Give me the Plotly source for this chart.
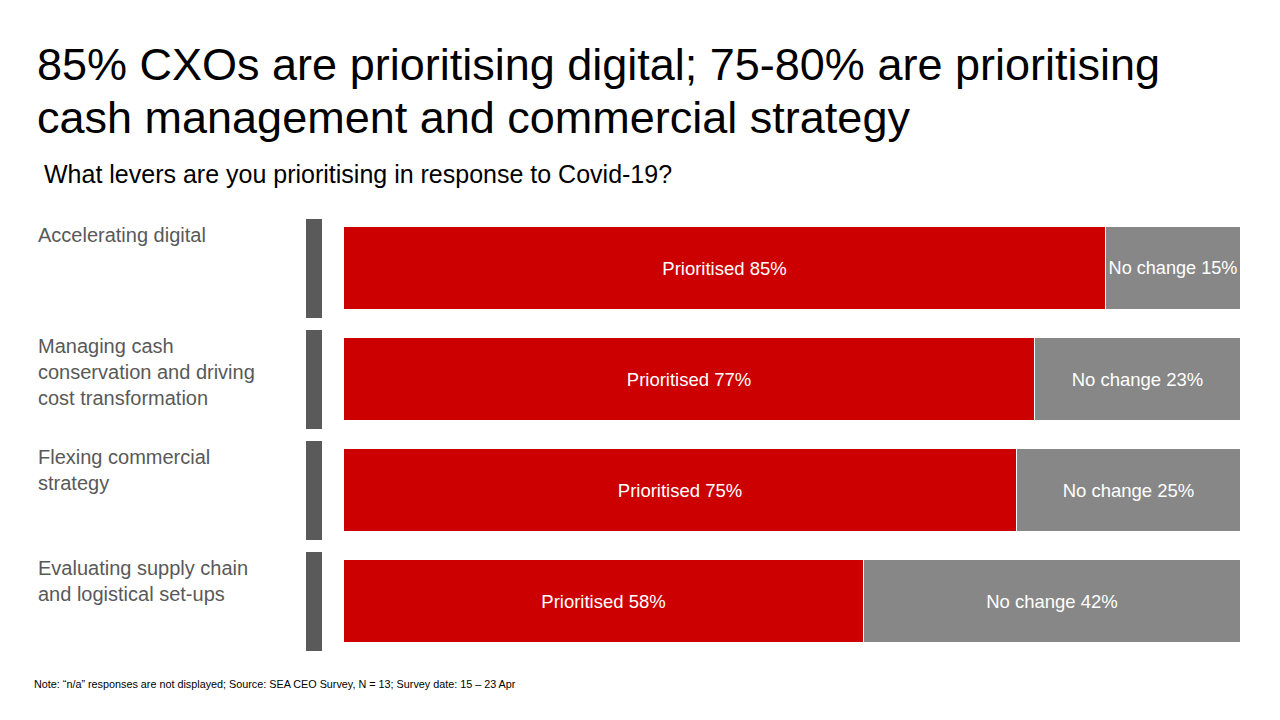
import plotly.graph_objects as go

# survey data
levers = [
    "Accelerating digital",
    "Managing cash<br>conservation and driving<br>cost transformation",
    "Flexing commercial<br>strategy",
    "Evaluating supply chain<br>and logistical set-ups",
]
prioritised = [85, 77, 75, 58]
no_change = [15, 23, 25, 42]

title_lines = [
    "85% CXOs are prioritising digital; 75-80% are prioritising",
    "cash management and commercial strategy",
]
subtitle = "What levers are you prioritising in response to Covid-19?"
note = ("Note: \u201cn/a\u201d responses are not displayed; Source: SEA CEO Survey, "
        "N = 13; Survey date: 15 \u2013 23 Apr")

RED = "#CC0000"
GREY = "#878787"
DARK = "#5A5A5A"
FONT = "Liberation Sans, Arial, Helvetica, sans-serif"

W, H = 1280, 720
rows = list(range(len(levers)))

fig = go.Figure()

# dark strips to the left of each bar
fig.add_trace(go.Bar(
    y=rows, x=[1] * len(rows), orientation="h",
    xaxis="x2", yaxis="y",
    marker=dict(color=DARK, line=dict(width=0)),
    width=0.89, hoverinfo="skip", showlegend=False,
))

fig.add_trace(go.Bar(
    y=rows, x=prioritised, orientation="h", name="Prioritised",
    marker=dict(color=RED, line=dict(color="white", width=1)),
    width=0.75,
    text=[f"Prioritised {v}%" for v in prioritised],
    textposition="inside", insidetextanchor="middle",
    textfont=dict(color="white", size=18.5, family=FONT),
    showlegend=False,
))
fig.add_trace(go.Bar(
    y=rows, x=no_change, orientation="h", name="No change",
    marker=dict(color=GREY, line=dict(color="white", width=1)),
    width=0.75,
    text=[f"No change {v}%" for v in no_change],
    textposition="inside", insidetextanchor="middle",
    textfont=dict(color="white", size=18.5, family=FONT),
    showlegend=False,
))

# row 0 centre at 260.5px, rows 111px apart
top = -260.5 / 111
bottom = (H - 260.5) / 111

fig.update_layout(
    width=W, height=H,
    margin=dict(l=0, r=0, t=0, b=0),
    paper_bgcolor="white", plot_bgcolor="white",
    barmode="stack", bargap=0,
    uniformtext=dict(mode="show", minsize=17),
    font=dict(family=FONT),
    xaxis=dict(domain=[336 / W, 1233 / W], range=[0, 100],
               visible=False, fixedrange=True),
    xaxis2=dict(domain=[298 / W, 314 / W], range=[0, 1],
                visible=False, anchor="y"),
    yaxis=dict(range=[bottom, top], visible=False, domain=[0, 1]),
)

annotations = []
for i, lab in zip(rows, levers):
    annotations.append(dict(
        x=28 / W, xref="paper", xanchor="left",
        y=i, yref="y", yanchor="top", yshift=47,
        text=lab, align="left", showarrow=False,
        font=dict(size=20, color="#595959", family=FONT),
    ))

for k, line in enumerate(title_lines):
    annotations.append(dict(
        x=27 / W, xref="paper", xanchor="left",
        y=1 - (29 + 53 * k) / H, yref="paper", yanchor="top",
        text=line, showarrow=False,
        font=dict(size=45, color="black", family=FONT),
    ))

annotations.append(dict(
    x=34 / W, xref="paper", xanchor="left",
    y=1 - 150 / H, yref="paper", yanchor="top",
    text=subtitle, showarrow=False,
    font=dict(size=25, color="black", family=FONT),
))
annotations.append(dict(
    x=24 / W, xref="paper", xanchor="left",
    y=1 - 668 / H, yref="paper", yanchor="top",
    text=note, showarrow=False,
    font=dict(size=10.8, color="black", family=FONT),
))

fig.update_layout(annotations=annotations)

fig.write_html("out.html")
